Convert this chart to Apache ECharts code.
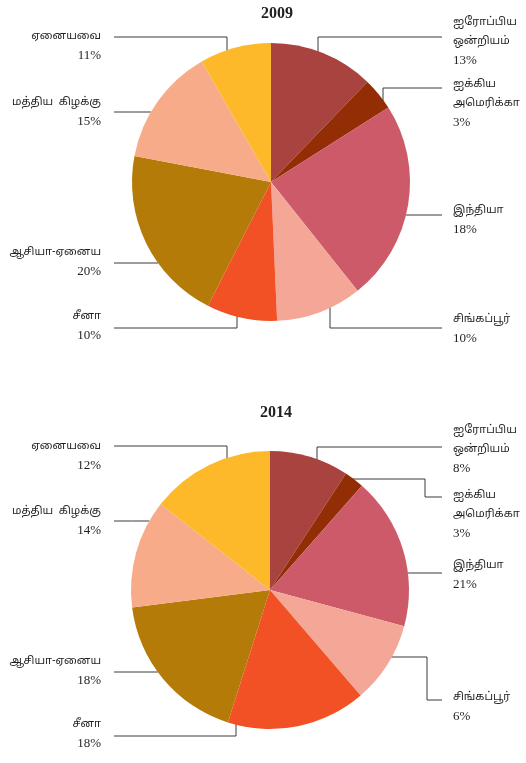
<!DOCTYPE html>
<html>
<head>
<meta charset="utf-8">
<script src="https://cdn.jsdelivr.net/npm/echarts@6/dist/echarts.min.js"></script>
<style>
  html, body { margin: 0; padding: 0; background: #fff; }
</style>
</head>
<body>
<div id="chart" style="width: 526px; height: 763px;"></div>
<script>
// categories (same order in both years, clockwise from the top)
const regions = ['ஐரோப்பிய\nஒன்றியம்', 'ஐக்கிய\nஅமெரிக்கா', 'இந்தியா', 'சிங்கப்பூர்', 'சீனா', 'ஆசியா-ஏனைய', 'மத்திய  கிழக்கு', 'ஏனையவை'];
const colors = ['#a9433f', '#922d05', '#cd5a68', '#f5a797', '#f15124', '#b47b09', '#f7ab88', '#fdb92a'];

// slice sizes as drawn
const share2009 = [12.2, 3.8, 23.3, 10.0, 8.2, 20.5, 13.7, 8.3];
const share2014 = [9.2, 2.3, 17.7, 9.5, 16.2, 18.1, 12.6, 14.4];

// printed percentage labels
const pct2009 = ['13%', '3%', '18%', '10%', '10%', '20%', '15%', '11%'];
const pct2014 = ['8%', '3%', '21%', '6%', '18%', '18%', '14%', '12%'];

const years = ['2009', '2014'];

// pie geometry
const pies = [
    { cx: 271, cy: 182, r: 139 },
    { cx: 270, cy: 590, r: 139 }
];

// label placement: side, text top, y of leader line, kind of leader
const layouts = [
    [
        { side: 'r', top: 13, lineY: 37, kind: 'v', x: 318 },
        { side: 'r', top: 75, lineY: 88, kind: 'v', x: 383 },
        { side: 'r', top: 201, lineY: 215, kind: 'h' },
        { side: 'r', top: 310, lineY: 328, kind: 'v', x: 330 },
        { side: 'l', top: 307, lineY: 328, kind: 'v', x: 237 },
        { side: 'l', top: 243, lineY: 263, kind: 'h' },
        { side: 'l', top: 93, lineY: 112, kind: 'h' },
        { side: 'l', top: 27, lineY: 37, kind: 'v', x: 227 }
    ],
    [
        { side: 'r', top: 421, lineY: 447, kind: 'v', x: 317 },
        { side: 'r', top: 486, lineY: 497, kind: 'hv', ay: 479, bx: 425 },
        { side: 'r', top: 556, lineY: 573, kind: 'h' },
        { side: 'r', top: 688, lineY: 700, kind: 'hv', ay: 657, bx: 427 },
        { side: 'l', top: 715, lineY: 736, kind: 'v', x: 236 },
        { side: 'l', top: 652, lineY: 672, kind: 'h' },
        { side: 'l', top: 502, lineY: 521, kind: 'h' },
        { side: 'l', top: 437, lineY: 446, kind: 'v', x: 227 }
    ]
];

function leader(p, L) {
    const endX = L.side === 'r' ? 442 : 114;
    if (L.kind === 'h') {
        const dx = Math.sqrt(p.r * p.r - Math.pow(L.lineY - p.cy, 2));
        const ax = L.side === 'r' ? p.cx + dx : p.cx - dx;
        return [[ax, L.lineY], [(ax + endX) / 2, L.lineY], [endX, L.lineY]];
    }
    if (L.kind === 'v') {
        const dy = Math.sqrt(p.r * p.r - Math.pow(L.x - p.cx, 2));
        const ay = L.lineY < p.cy ? p.cy - dy + 2 : p.cy + dy - 2;
        return [[L.x, ay], [L.x, L.lineY], [endX, L.lineY]];
    }
    const dx = Math.sqrt(p.r * p.r - Math.pow(L.ay - p.cy, 2));
    const ax = p.cx + dx - 2;
    return [[ax, L.ay], [L.bx, L.ay], [L.bx, L.lineY], [endX, L.lineY]];
}

const tamilFont = '"Noto Sans Tamil", "Noto Serif Tamil", "Lohit Tamil", "Latha", "Liberation Serif", serif';

function makeSeries(idx, shares, pcts) {
    const p = pies[idx];
    return {
        type: 'pie',
        center: [p.cx, p.cy],
        radius: [0, p.r],
        startAngle: 90,
        clockwise: true,
        avoidLabelOverlap: false,
        silent: true,
        data: regions.map((name, i) => ({
            name: name,
            value: shares[i],
            itemStyle: { color: colors[i] }
        })),
        label: {
            show: true,
            position: 'outside',
            formatter: params => params.name.split('\n').map(s => '{n|' + s + '}').join('\n') +
                '\n{p|' + pcts[params.dataIndex] + '}',
            color: '#231f20',
            rich: {
                n: {
                    fontFamily: tamilFont,
                    fontSize: 11,
                    lineHeight: 19,
                    color: '#231f20'
                },
                p: {
                    fontFamily: '"Liberation Serif", serif',
                    fontSize: 13,
                    lineHeight: 19,
                    color: '#231f20'
                }
            }
        },
        labelLine: {
            show: true,
            lineStyle: { color: '#3a3a3a', width: 1 }
        },
        labelLayout: params => {
            const L = layouts[idx][params.dataIndex];
            return {
                x: L.side === 'r' ? 453 : 101,
                y: L.top,
                align: L.side === 'r' ? 'left' : 'right',
                verticalAlign: 'top',
                labelLinePoints: leader(p, L)
            };
        }
    };
}

const chart = echarts.init(document.getElementById('chart'));
chart.setOption({
    backgroundColor: '#fff',
    animation: false,
    title: years.map((y, i) => ({
        text: y,
        left: pies[i].cx + 1,
        top: i === 0 ? 1 : 400,
        textAlign: 'center',
        textStyle: {
            fontFamily: '"Liberation Serif", serif',
            fontWeight: 'bold',
            fontSize: 16,
            color: '#231f20'
        }
    })),
    series: [
        makeSeries(0, share2009, pct2009),
        makeSeries(1, share2014, pct2014)
    ]
});
window.addEventListener('resize', chart.resize);
</script>
</body>
</html>
